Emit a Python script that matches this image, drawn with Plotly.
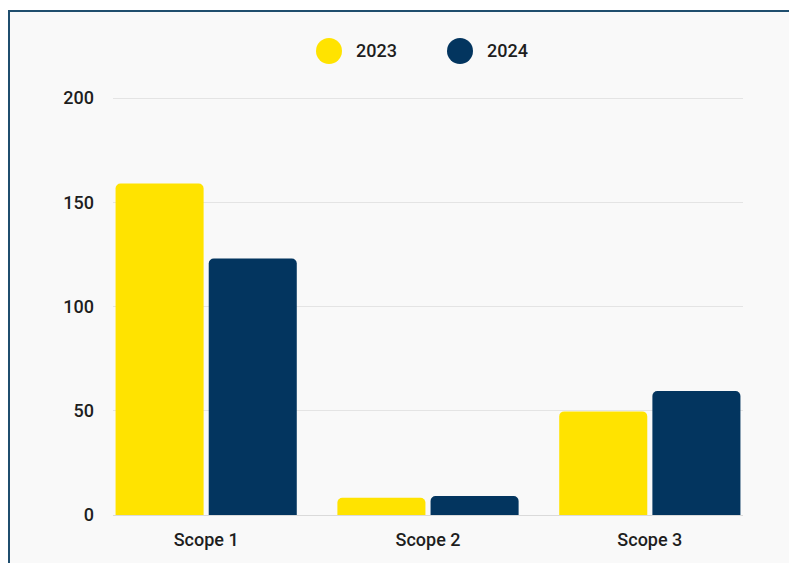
import plotly.graph_objects as go

# Emissions by scope, two reporting years
categories = ["Scope 1", "Scope 2", "Scope 3"]
values_2023 = [159, 8.3, 49.7]
values_2024 = [123, 9.1, 59.5]
years = ["2023", "2024"]
colors = ["#FFE300", "#03355F"]
y_ticks = [0, 50, 100, 150, 200]

W, H = 789, 563
M_L, M_R, M_T, M_B = 113, 46, 97, 48
plot_w = W - M_L - M_R
plot_h = H - M_T - M_B


def px_x(px):
    return (px - M_L) / plot_w


def px_y(py):
    return (H - M_B - py) / plot_h


fig = go.Figure()
for name, vals, col in zip(years, [values_2023, values_2024], colors):
    fig.add_trace(go.Bar(
        x=categories, y=vals, name=name,
        marker=dict(color=col, line=dict(width=0)),
        showlegend=False,
    ))

font = dict(family="Roboto", size=18, color="#1E1E1E", weight=500)

shapes = [
    # card background with top/left border
    dict(type="rect", xref="paper", yref="paper", layer="below",
         x0=px_x(9), x1=px_x(W + 20), y0=px_y(H + 20), y1=px_y(11),
         fillcolor="#F9F9F9", line=dict(color="#1F4E6E", width=2)),
]
annotations = []
legend_x = [329, 460]
legend_y = 51
for name, col, cx in zip(years, colors, legend_x):
    shapes.append(dict(
        type="circle", xref="paper", yref="paper",
        xsizemode="pixel", ysizemode="pixel",
        xanchor=px_x(cx), yanchor=px_y(legend_y),
        x0=-13, x1=13, y0=-13, y1=13,
        fillcolor=col, line=dict(width=0),
    ))
    annotations.append(dict(
        text=name, xref="paper", yref="paper",
        x=px_x(cx + 25), y=px_y(legend_y),
        xanchor="left", yanchor="middle", showarrow=False, font=font,
    ))

fig.update_layout(
    width=W, height=H,
    margin=dict(l=M_L, r=M_R, t=M_T, b=M_B, pad=0),
    paper_bgcolor="#FFFFFF",
    plot_bgcolor="rgba(0,0,0,0)",
    barmode="group",
    bargap=0.16,
    bargroupgap=0.055,
    barcornerradius=5,
    font=font,
    shapes=shapes,
    annotations=annotations,
    xaxis=dict(
        range=[-0.42, 2.42],
        showgrid=False, zeroline=False,
        showline=True, linecolor="#DADADA", linewidth=1,
        ticks="", tickfont=font, ticklabelstandoff=8,
        fixedrange=True,
    ),
    yaxis=dict(
        range=[0, 200.5], tickvals=y_ticks,
        showgrid=True, gridcolor="#E4E4E4", gridwidth=1,
        zeroline=False, showline=False,
        ticks="", tickfont=font, ticklabelstandoff=18,
        fixedrange=True,
    ),
)

fig.write_html("out.html")
